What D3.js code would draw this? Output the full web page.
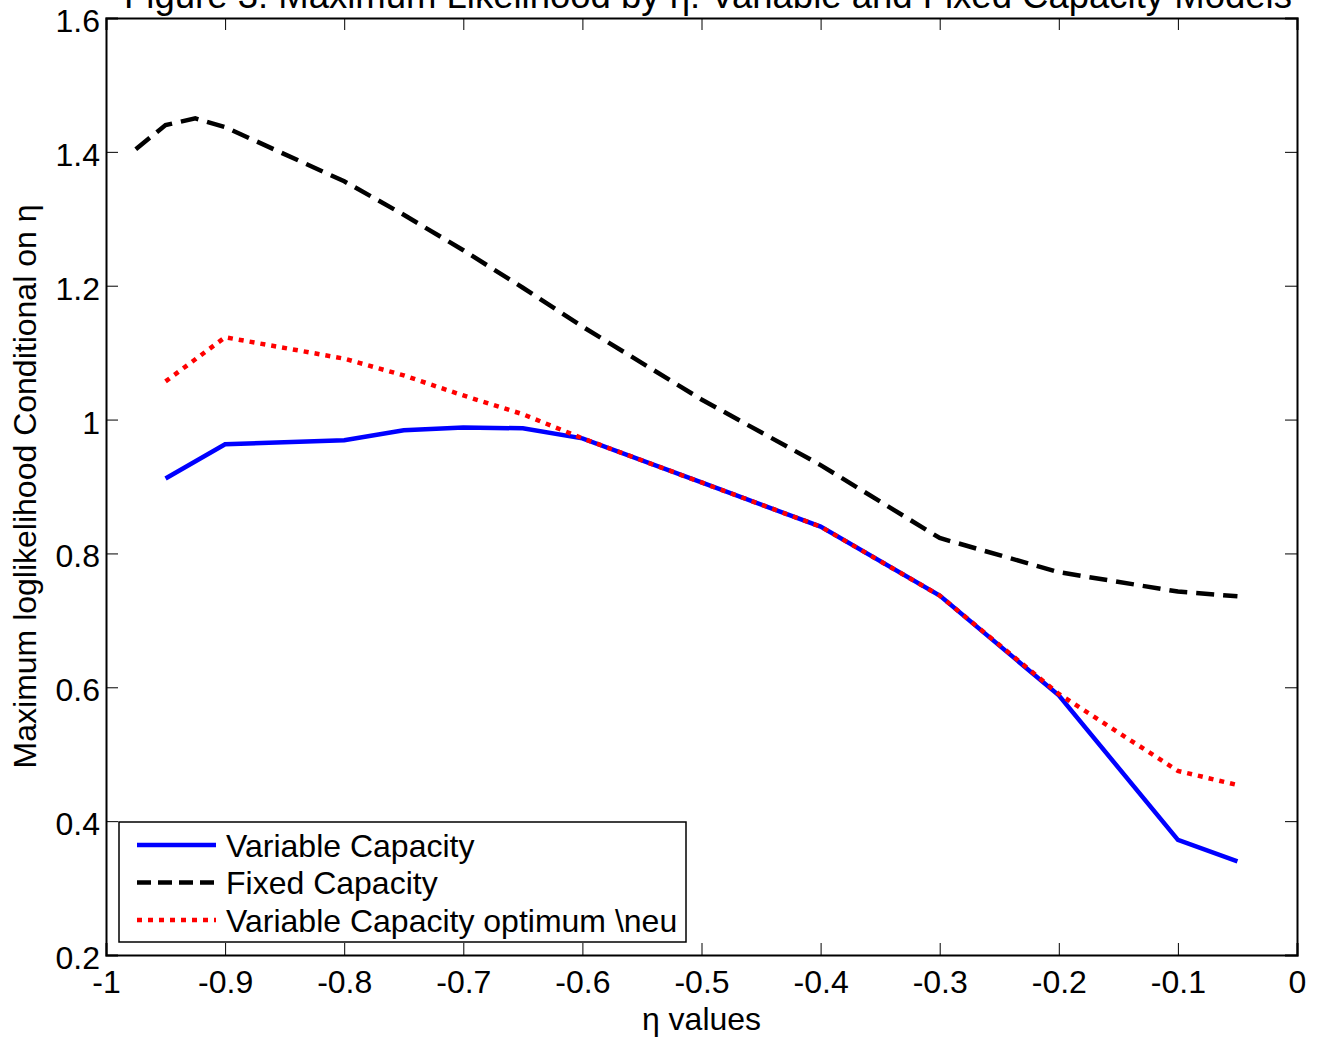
<!DOCTYPE html>
<html>
<head>
<meta charset="utf-8">
<script src="https://cdn.jsdelivr.net/npm/d3@7"></script>
<style>
  body { margin: 0; background: #fff; }
  text { font-family: "Liberation Sans", Arial, sans-serif; fill: #000; }
</style>
</head>
<body>
<div id="chart"></div>
<script>
// eta values for each series
var etaVariable = [-0.95, -0.9, -0.8, -0.75, -0.7, -0.65, -0.6, -0.5, -0.4, -0.3, -0.2, -0.1, -0.05];
var variableCapacity = [0.912, 0.963, 0.969, 0.984, 0.988, 0.987, 0.972, 0.906, 0.840, 0.737, 0.588, 0.372, 0.340];
var optimumNeu = [1.057, 1.123, 1.091, 1.066, 1.036, 1.008, 0.972, 0.906, 0.840, 0.737, 0.590, 0.475, 0.454];

var etaFixed = [-0.975, -0.95, -0.925, -0.9, -0.8, -0.75, -0.7, -0.65, -0.6, -0.5, -0.4, -0.3, -0.2, -0.1, -0.05];
var fixedCapacity = [1.404, 1.440, 1.450, 1.437, 1.356, 1.306, 1.253, 1.197, 1.139, 1.030, 0.932, 0.823, 0.772, 0.743, 0.736];

var xTicks = [-1, -0.9, -0.8, -0.7, -0.6, -0.5, -0.4, -0.3, -0.2, -0.1, 0];
var yTicks = [0.2, 0.4, 0.6, 0.8, 1, 1.2, 1.4, 1.6];

var seriesNames = ["Variable Capacity", "Fixed Capacity", "Variable Capacity optimum \\neu"];

var w = 1320, h = 1042;
var mLeft = 106, mRight = 1297, mTop = 18, mBottom = 955;
var fs = "32px";

var svg = d3.select("#chart").append("svg")
  .attr("width", w)
  .attr("height", h);

var x = d3.scaleLinear().domain([-1, 0]).range([mLeft, mRight]);
var y = d3.scaleLinear().domain([0.2, 1.6]).range([mBottom, mTop]);

// plot box
svg.append("rect")
  .attr("x", mLeft).attr("y", mTop)
  .attr("width", mRight - mLeft).attr("height", mBottom - mTop)
  .attr("fill", "#fff");

// axes with inward ticks on all four sides
var fmt = d => d3.format("")(d).replace("−", "-");
var tl = 12;

var gx = svg.append("g").attr("transform", "translate(0," + mBottom + ")")
  .call(d3.axisBottom(x).tickValues(xTicks).tickSize(-tl).tickFormat(fmt));
var gxt = svg.append("g").attr("transform", "translate(0," + mTop + ")")
  .call(d3.axisTop(x).tickValues(xTicks).tickSize(-tl).tickFormat(""));
var gy = svg.append("g").attr("transform", "translate(" + mLeft + ",0)")
  .call(d3.axisLeft(y).tickValues(yTicks).tickSize(-tl).tickFormat(fmt));
var gyr = svg.append("g").attr("transform", "translate(" + mRight + ",0)")
  .call(d3.axisRight(y).tickValues(yTicks).tickSize(-tl).tickFormat(""));

[gx, gxt, gy, gyr].forEach(function (g) {
  g.select(".domain").attr("stroke", "#000").attr("stroke-width", 2);
  g.selectAll(".tick line").attr("stroke", "#000").attr("stroke-width", 1);
  g.selectAll(".tick text").style("font-size", fs).style("font-family", "Liberation Sans, Arial, sans-serif").attr("fill", "#000");
});
gx.selectAll(".tick text").attr("y", 15).attr("dy", "0.71em");
gy.selectAll(".tick text").attr("x", -6).attr("dy", "0.42em");

// lines
var line = d3.line().x(d => x(d[0])).y(d => y(d[1]));

var fixedData = d3.zip(etaFixed, fixedCapacity);
var varData = d3.zip(etaVariable, variableCapacity);
var optData = d3.zip(etaVariable, optimumNeu);

svg.append("path").datum(fixedData)
  .attr("d", line).attr("fill", "none")
  .attr("stroke", "#000").attr("stroke-width", 4.5)
  .attr("stroke-dasharray", "18,9");

svg.append("path").datum(varData)
  .attr("d", line).attr("fill", "none")
  .attr("stroke", "#0000ff").attr("stroke-width", 4.5);

svg.append("path").datum(optData)
  .attr("d", line).attr("fill", "none")
  .attr("stroke", "#ff0000").attr("stroke-width", 4.5)
  .attr("stroke-dasharray", "5,6");

// legend
var lg = svg.append("g");
lg.append("rect")
  .attr("x", 119).attr("y", 822).attr("width", 567).attr("height", 120)
  .attr("fill", "#fff").attr("stroke", "#000").attr("stroke-width", 1.5);

var styles = [
  { color: "#0000ff", dash: null },
  { color: "#000", dash: "14,7" },
  { color: "#ff0000", dash: "5,6" }
];
seriesNames.forEach(function (name, i) {
  var yy = 845 + i * 37.5;
  lg.append("line")
    .attr("x1", 137).attr("x2", 216).attr("y1", yy).attr("y2", yy)
    .attr("stroke", styles[i].color).attr("stroke-width", 4.5)
    .attr("stroke-dasharray", styles[i].dash);
  lg.append("text")
    .attr("x", 226).attr("y", yy).attr("dy", "0.36em")
    .style("font-size", fs)
    .text(name);
});

// titles
svg.append("text")
  .attr("x", 708).attr("y", 8)
  .attr("text-anchor", "middle")
  .style("font-size", "36.5px")
  .text("Figure 3: Maximum Likelihood by η: Variable and Fixed Capacity Models");

svg.append("text")
  .attr("x", (mLeft + mRight) / 2).attr("y", 1030)
  .attr("text-anchor", "middle")
  .style("font-size", fs)
  .text("η values");

svg.append("text")
  .attr("transform", "translate(36," + ((mTop + mBottom) / 2) + ") rotate(-90)")
  .attr("text-anchor", "middle")
  .style("font-size", fs)
  .text("Maximum loglikelihood Conditional on η");
</script>
</body>
</html>
